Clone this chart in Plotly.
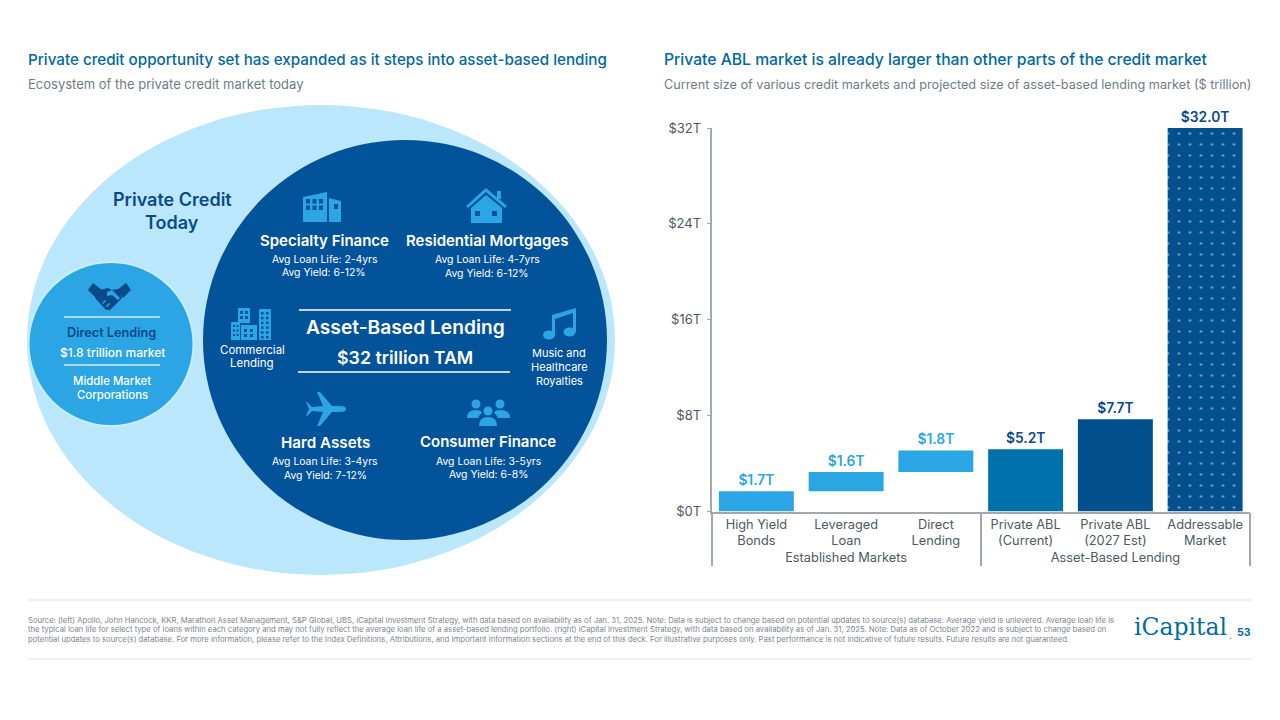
import plotly.graph_objects as go

# right chart data ($ trillion)
groups = ["Established Markets"] * 3 + ["Asset-Based Lending"] * 3
categories = ["High Yield<br>Bonds", "Leveraged<br>Loan", "Direct<br>Lending",
              "Private ABL<br>(Current)", "Private ABL<br>(2027 Est)", "Addressable<br>Market"]
bar_values = [1.7, 1.6, 1.8, 5.2, 7.7, 32.0]
bar_bases = [0, 1.7, 3.3, 0, 0, 0]
bar_labels = ["$1.7T", "$1.6T", "$1.8T", "$5.2T", "$7.7T", "$32.0T"]
y_ticks = [0, 8, 16, 24, 32]
y_tick_labels = ["$0T", "$8T", "$16T", "$24T", "$32T"]

title_left = "Private credit opportunity set has expanded as it steps into asset-based lending"
subtitle_left = "Ecosystem of the private credit market today"
title_right = "Private ABL market is already larger than other parts of the credit market"
subtitle_right = "Current size of various credit markets and projected size of asset-based lending market ($ trillion)"
footnote = [
    "Source: (left) Apollo, John Hancock, KKR, Marathon Asset Management, S&P Global, UBS, iCapital Investment Strategy, with data based on availability as of Jan. 31, 2025. Note: Data is subject to change based on potential updates to source(s) database. Average yield is unlevered. Average loan life is",
    "the typical loan life for select type of loans within each category and may not fully reflect the average loan life of a asset-based lending portfolio. (right) iCapital Investment Strategy, with data based on availability as of Jan. 31, 2025. Note: Data as of October 2022 and is subject to change based on",
    "potential updates to source(s) database. For more information, please refer to the Index Definitions, Attributions, and Important Information sections at the end of this deck. For illustrative purposes only. Past performance is not indicative of future results. Future results are not guaranteed.",
]

FONT = "Inter"
TEAL = "#00689f"
GREY = "#6f7c86"
TEXT = "#4d5963"
PALE = "#bbe7fc"
SKY = "#2ba5e3"
NAVY = "#03539b"
DARK = "#0b4a8a"
OCEAN = "#0072ab"
BAR_NAVY = "#03508f"
RULE = "#dde3e8"
AXIS = "#a3a8ab"

fig = go.Figure()

# bars on the real chart axes
fig.add_trace(go.Bar(
    x=[groups, categories],
    y=bar_values,
    base=bar_bases,
    text=bar_labels,
    textposition="outside",
    constraintext="none",
    cliponaxis=False,
    textfont=dict(family=FONT, size=13.8, weight=600,
                  color=[SKY, SKY, SKY, DARK, DARK, DARK]),
    marker=dict(
        color=[SKY, SKY, SKY, OCEAN, BAR_NAVY, BAR_NAVY],
        pattern=dict(shape=["", "", "", "", "", "."], fgcolor="white",
                     bgcolor=BAR_NAVY, size=11, solidity=0.04),
        line=dict(width=0),
    ),
    hoverinfo="skip",
    showlegend=False,
))

# invisible trace so the page-pixel axes exist for the diagram
fig.add_trace(go.Scatter(x=[0, 1280], y=[0, 720], xaxis="x2", yaxis="y2", mode="markers",
                         marker=dict(opacity=0), hoverinfo="skip", showlegend=False))

shapes = []


def ellipse(cx, cy, rx, ry, color):
    shapes.append(dict(type="circle", xref="x2", yref="y2", x0=cx - rx, x1=cx + rx,
                       y0=cy - ry, y1=cy + ry, fillcolor=color, line_width=0, layer="below"))


def rect(x0, y0, x1, y1, color):
    shapes.append(dict(type="rect", xref="x2", yref="y2", x0=x0, x1=x1, y0=y0, y1=y1,
                       fillcolor=color, line_width=0, layer="below"))


def poly(d, color):
    shapes.append(dict(type="path", xref="x2", yref="y2", path=d, fillcolor=color,
                       line_width=0, layer="below"))


def rule(x0, x1, y, color, width=1):
    shapes.append(dict(type="line", xref="x2", yref="y2", x0=x0, x1=x1, y0=y, y1=y,
                       line=dict(color=color, width=width), layer="below"))


def windows(x0, y0, cols, rows, w, h, dx, dy, color=NAVY):
    for c in range(cols):
        for r in range(rows):
            rect(x0 + c * dx, y0 + r * dy, x0 + c * dx + w, y0 + r * dy + h, color)


def label(x, y, text, size, color="white", weight=400, anchor="center", family=FONT):
    fig.add_annotation(x=x, y=y, xref="x2", yref="y2", text=text, showarrow=False,
                       xanchor=anchor, yanchor="middle", borderpad=0, borderwidth=0,
                       font=dict(family=family, size=size, color=color, weight=weight))


# backdrop circles
ellipse(321, 340, 294, 235, PALE)
ellipse(405, 340, 202, 200, NAVY)
ellipse(111, 344, 83.5, 83, "#c8edfd")
ellipse(111, 344, 81.5, 81, SKY)

# handshake
poly("M88 290 L93 283 L102 290 L96 298 Z", DARK)
poly("M131 290 L126 283 L117 290 L123 298 Z", DARK)
poly("M100 290 L108 288 L112 290 L118 289 L122 298 L110 310 L106 310 L95 298 Z", DARK)
poly("M107 292 L112 290 L120 298 L118 300 L112 295 L107 296 Z", SKY)
poly("M102 303 L105 300 L106 301 L103 304 Z M106 306 L109 303 L110 304 L107 307 Z", SKY)

# specialty finance building
poly("M303 197 L327 192 V222 H303 Z", SKY)
poly("M329 198 L341 201 V222 H329 Z", SKY)
windows(306, 199, 3, 2, 4, 4.5, 6.5, 6.5)
rect(334, 204, 338, 209, NAVY)

# house
poly("M466 206 L486 188 L507 206 L505 208 L486 192 L468 208 Z", SKY)
rect(497, 191, 501, 199, SKY)
poly("M471 208 L486 195 L502 208 V223 H471 Z", SKY)
rect(475, 211, 480, 216, NAVY)
rect(492, 211, 497, 216, NAVY)

# commercial lending towers
rect(231, 322, 240, 340, SKY)
rect(238, 308, 250, 323, SKY)
rect(241, 325, 257, 340, SKY)
rect(259, 309, 271, 340, SKY)
windows(233, 325, 2, 3, 2, 2, 3.5, 4.5)
windows(240, 311, 2, 2, 3, 3, 5, 5)
windows(244, 329, 2, 2, 3, 3, 6, 5)
windows(261, 312, 2, 6, 2.5, 2.5, 5, 4.8)

# music note
ellipse(549, 335, 6, 4.5, SKY)
ellipse(569.5, 332, 6, 4.5, SKY)
poly("M552 335 V315 L576 308 V332 H573 V313 L555 319 V335 Z", SKY)

# plane
poly("M346 409 Q346 406 340 406 L332 406 L320 392 H317 L323 406 L312 407 L307 402 H306 "
     "L309 409 L306 416 H307 L312 411 L323 412 L317 426 H320 L332 412 L340 412 Q346 412 346 409 Z", SKY)

# people
ellipse(476, 404, 4.5, 4.5, SKY)
ellipse(500, 404, 4.5, 4.5, SKY)
ellipse(488, 411, 4.5, 4.5, SKY)
poly("M467 418 Q467 410 476 410 Q481 410 482 413 Q479 415 478 418 Z", SKY)
poly("M510 418 Q510 410 500 410 Q495 410 494 413 Q497 415 498 418 Z", SKY)
poly("M479 426 Q479 417 488 417 Q497 417 497 426 Z", SKY)

# diagram text
label(172, 199, "Private Credit", 18, DARK, 600)
label(172, 222, "Today", 18, DARK, 600)
rule(64, 160, 317, "#d9f2fd", 1.5)
label(111, 332, "Direct Lending", 12.7, DARK, 600)
label(112, 352, "$1.8 trillion market", 12, "white", 500)
rule(64, 160, 365, "#d9f2fd", 1.5)
label(112, 381, "Middle Market", 11.4, "white", 500)
label(112, 395, "Corporations", 11.4, "white", 500)

label(324, 240, "Specialty Finance", 15, "white", 600)
label(324, 259, "Avg Loan Life: 2-4yrs", 10.4)
label(324, 272, "Avg Yield: 6-12%", 10.4)
label(487, 240, "Residential Mortgages", 15, "white", 600)
label(487, 259, "Avg Loan Life: 4-7yrs", 10.4)
label(487, 273, "Avg Yield: 6-12%", 10.4)

label(252, 350, "Commercial", 11.5)
label(252, 363, "Lending", 11.5)
rule(299, 511, 310, "white", 1.5)
label(405, 327, "Asset-Based Lending", 19.2, "white", 600)
label(405, 357, "$32 trillion TAM", 17.8, "white", 600)
rule(298, 510, 372, "white", 1.5)
label(559, 353, "Music and", 11)
label(559, 367, "Healthcare", 11)
label(559, 381, "Royalties", 11)

label(325, 442, "Hard Assets", 15.2, "white", 600)
label(325, 461, "Avg Loan Life: 3-4yrs", 10.4)
label(325, 475, "Avg Yield: 7-12%", 10.4)
label(488, 441, "Consumer Finance", 15, "white", 600)
label(488, 461, "Avg Loan Life: 3-5yrs", 10.4)
label(488, 474, "Avg Yield: 6-8%", 10.4)

# page headings
label(28, 59, title_left, 15.2, TEAL, 500, "left")
label(28, 84, subtitle_left, 13, GREY, 400, "left")
label(664, 59, title_right, 15.7, TEAL, 500, "left")
label(664, 84, subtitle_right, 12.7, GREY, 400, "left")

# footer
rule(28, 1252, 600, RULE, 1)
rule(28, 1252, 659, RULE, 1)
for i, line in enumerate(footnote):
    label(28, 620 + i * 9.5, line, 7.68, "#7b858d", 400, "left")
label(1134, 627, "iCapital", 23.5, "#006ba6", 400, "left", "DejaVu Serif")
label(1229, 635, ".", 10, "#006ba6", 400, "left")
label(1244, 632, "53", 10.5, "#006ba6", 700)

fig.update_layout(
    width=1280, height=720, autosize=False,
    margin=dict(l=0, r=0, t=0, b=0, autoexpand=False),
    paper_bgcolor="white", plot_bgcolor="rgba(0,0,0,0)",
    bargap=0.165,
    shapes=shapes,
    font=dict(family=FONT, color=TEXT),
    xaxis=dict(domain=[711.5 / 1280, 1250 / 1280], anchor="y", type="multicategory",
               showgrid=False, showline=True, linecolor=AXIS, linewidth=1.5, ticks="",
               showdividers=True, dividercolor=AXIS, dividerwidth=1.5,
               tickfont=dict(family=FONT, size=12.8, color=TEXT)),
    yaxis=dict(domain=[1 - 511.5 / 720, 1 - 128 / 720], anchor="x", range=[0, 32],
               tickvals=y_ticks, ticktext=y_tick_labels, showgrid=False, zeroline=False,
               showline=True, linecolor=AXIS, linewidth=1.5, ticks="outside", ticklen=3,
               ticklabelstandoff=3, tickcolor=AXIS, tickfont=dict(family=FONT, size=13, color=TEXT)),
    xaxis2=dict(domain=[0, 1], range=[0, 1280], visible=False, anchor="y2"),
    yaxis2=dict(domain=[0, 1], range=[720, 0], visible=False, anchor="x2"),
)

fig.write_html("out.html", config=dict(displayModeBar=False),
               post_script="document.body.style.margin='0';")
